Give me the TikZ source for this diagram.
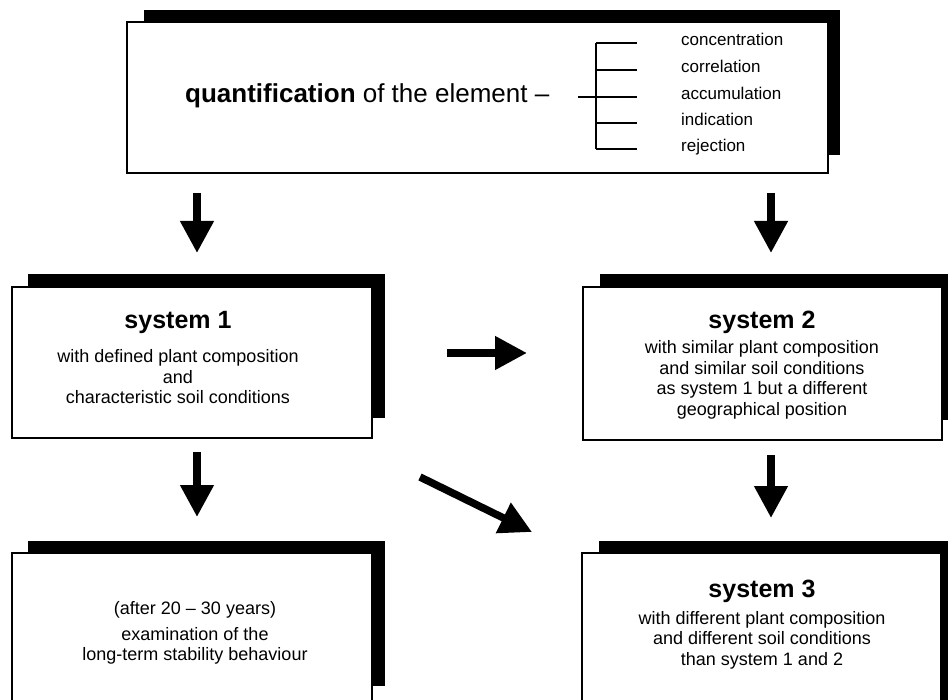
\documentclass[tikz,border=0pt]{standalone}
\usepackage{fontspec}
\setmainfont{Liberation Sans}
\usetikzlibrary{arrows.meta}
\begin{document}
\begin{tikzpicture}[x=1pt,y=-1pt,
  shadowfill/.style={fill=black},
  framebox/.style={draw=black, fill=white, line width=1.2pt, inner sep=0pt, outer sep=0pt},
  headtext/.style={font=\fontsize{25}{30}\selectfont\bfseries, anchor=base, inner sep=0pt},
  bodytext/.style={font=\fontsize{18}{20.5}\selectfont, align=center, inner sep=0pt},
  lbl/.style={font=\fontsize{17}{20}\selectfont, anchor=mid west, inner sep=0pt},
  bigarrow/.style={line width=7.5pt, -{Triangle[length=32pt,width=32pt]}},
  treeline/.style={line width=1.3pt}]
\useasboundingbox (0,0) rectangle (948,700);
\fill[white] (0,0) rectangle (948,700);
\clip (0,0) rectangle (948,700);

% top box
\fill[shadowfill] (144,10) rectangle (840,155);
\node[framebox, minimum width=701pt, minimum height=151pt] (top) at (477.5,97.5) {};
\node[anchor=base west, font=\fontsize{26}{30}\selectfont, inner sep=0pt] (qt) at (185,103) {\textbf{quantification} of the element –};
\coordinate (tj) at (578,97);
\coordinate (tv1) at (596,43);
\coordinate (tv5) at (596,149);
\node[lbl] (l1) at (681,43) {concentration};
\node[lbl] (l2) at (681,70) {correlation};
\node[lbl] (l3) at (681,97) {accumulation};
\node[lbl] (l4) at (681,123) {indication};
\node[lbl] (l5) at (681,149) {rejection};
\draw[treeline] (tj) -- (637,97);
\draw[treeline] (tv1) -- (tv5);
\foreach \yy in {43,70,123,149} {\draw[treeline] (596,\yy) -- (637,\yy);}

% system 1
\fill[shadowfill] (28,274) rectangle (385,418);
\node[framebox, minimum width=360pt, minimum height=151pt] (s1) at (192,362.5) {};
\node[headtext] (s1h) at (178,329) {system 1};
\node[bodytext] (s1b) at (178,377) {with defined plant composition\\and\\characteristic soil conditions};

% system 2
\fill[shadowfill] (600,274) rectangle (960,420);
\node[framebox, minimum width=359pt, minimum height=153pt] (s2) at (762.5,363.5) {};
\node[headtext] (s2h) at (762,329) {system 2};
\node[bodytext] (s2b) at (762,380) {with similar plant composition\\and similar soil conditions\\as system 1 but a different\\geographical position};

% bottom-left box
\fill[shadowfill] (28,541) rectangle (385,686);
\node[framebox, minimum width=360pt, minimum height=177pt] (ex) at (192,641.5) {};
\node[bodytext] (exa) at (195,610) {(after 20 – 30 years)};
\node[bodytext] (exb) at (195,646) {examination of the\\long-term stability behaviour};

% system 3
\fill[shadowfill] (599,541) rectangle (960,700);
\node[framebox, minimum width=359pt, minimum height=177pt] (s3) at (761.5,641.5) {};
\node[headtext] (s3h) at (762,597) {system 3};
\node[bodytext] (s3b) at (762,640) {with different plant composition\\and different soil conditions\\than system 1 and 2};

% arrows
\coordinate (a1s) at (197,193); \coordinate (a1e) at (197,253);
\coordinate (a2s) at (771,193); \coordinate (a2e) at (771,253);
\coordinate (a3s) at (447,353); \coordinate (a3e) at (527,353);
\coordinate (a4s) at (420,477); \coordinate (a4e) at (532,532);
\coordinate (a5s) at (197,452); \coordinate (a5e) at (197,517);
\coordinate (a6s) at (771,455); \coordinate (a6e) at (771,518);
\draw[bigarrow] (a1s) -- (a1e);
\draw[bigarrow] (a2s) -- (a2e);
\draw[bigarrow] (a3s) -- (a3e);
\draw[bigarrow] (a4s) -- (a4e);
\draw[bigarrow] (a5s) -- (a5e);
\draw[bigarrow] (a6s) -- (a6e);
\end{tikzpicture}
\end{document}
